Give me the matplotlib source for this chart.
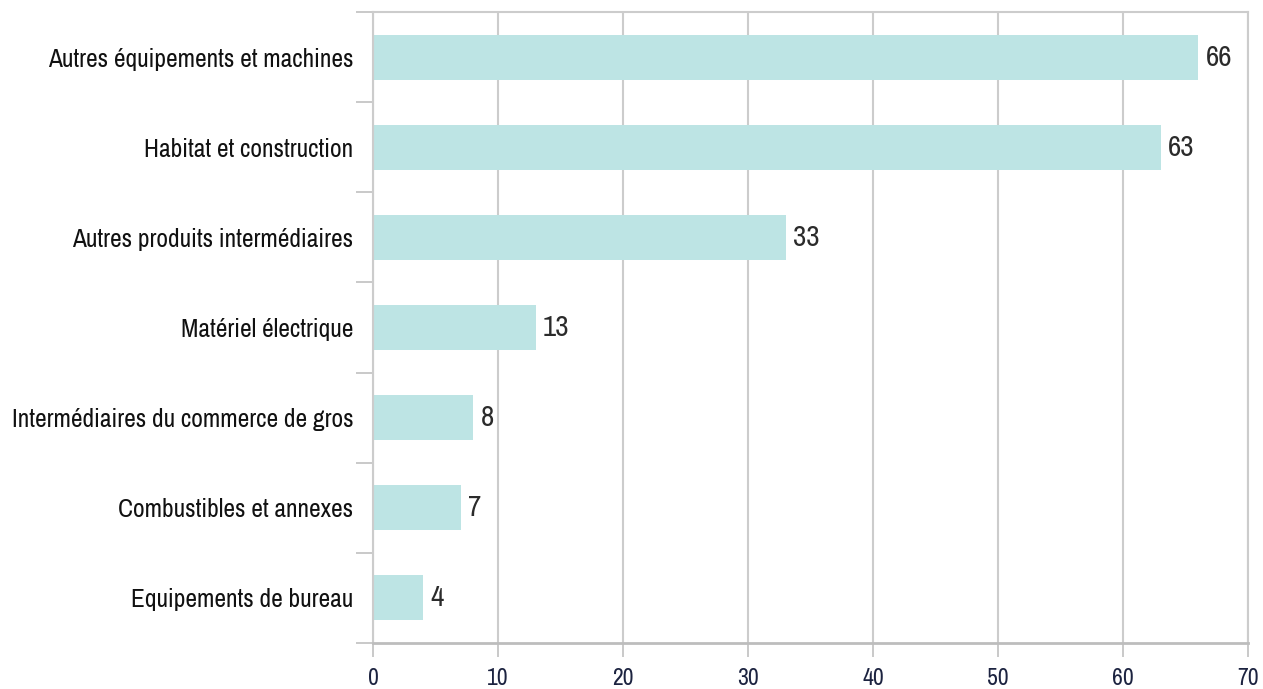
import matplotlib
matplotlib.use('Agg')
import matplotlib.pyplot as plt
from matplotlib import font_manager
import numpy as np

# Données
categories = [
    'Autres équipements et machines',
    'Habitat et construction',
    'Autres produits intermédiaires',
    'Matériel électrique',
    'Intermédiaires du commerce de gros',
    'Combustibles et annexes',
    'Equipements de bureau',
]
valeurs = [66, 63, 33, 13, 8, 7, 4]
graduations = [0, 10, 20, 30, 40, 50, 60, 70]

# police étroite si disponible
etroites = sorted({f.name for f in font_manager.fontManager.ttflist
                   if 'Narrow' in f.name or 'Condensed' in f.name})
famille = etroites[0] if etroites else 'Lato'
plt.rcParams['font.family'] = [famille, 'DejaVu Sans']

fig = plt.figure(figsize=(12.63, 6.89), dpi=100)
ax = fig.add_axes([373 / 1263, 1 - 643 / 689, (1248 - 373) / 1263, (643 - 12) / 689])

y = np.arange(len(categories))
ax.barh(y, valeurs, height=0.5, color='#bde4e4', zorder=2)

for yi, v in zip(y, valeurs):
    ax.text(v + 0.6, yi, str(v), va='center', ha='left', fontsize=21,
            fontweight='light', color='#2b2b2b')

ax.set_xlim(0, 70)
ax.set_ylim(len(categories) - 0.5, -0.5)
ax.set_xticks(graduations)
ax.set_xticklabels([str(g) for g in graduations], fontsize=17, fontweight='bold', color='#1c2340')

# libellés des catégories entre les graduations de l'axe
ax.set_yticks(np.arange(-0.5, len(categories), 1))
ax.set_yticklabels([])
ax.set_yticks(y, minor=True)
ax.set_yticklabels(categories, minor=True, fontsize=18.3, color='#111111')
ax.tick_params(axis='y', which='minor', length=0, pad=14)
ax.tick_params(axis='y', which='major', length=12, color='#c0c0c0', width=1.2)
ax.tick_params(axis='x', length=10, color='#c0c0c0', width=1.2, pad=8)

ax.grid(axis='x', color='#cccccc', linewidth=1.5, zorder=0)
for s in ['left', 'top', 'right']:
    ax.spines[s].set_color('#cccccc')
    ax.spines[s].set_linewidth(1.5)
ax.spines['bottom'].set_color('#bdbdbd')
ax.spines['bottom'].set_linewidth(2)

plt.savefig('out.png', dpi=100)
